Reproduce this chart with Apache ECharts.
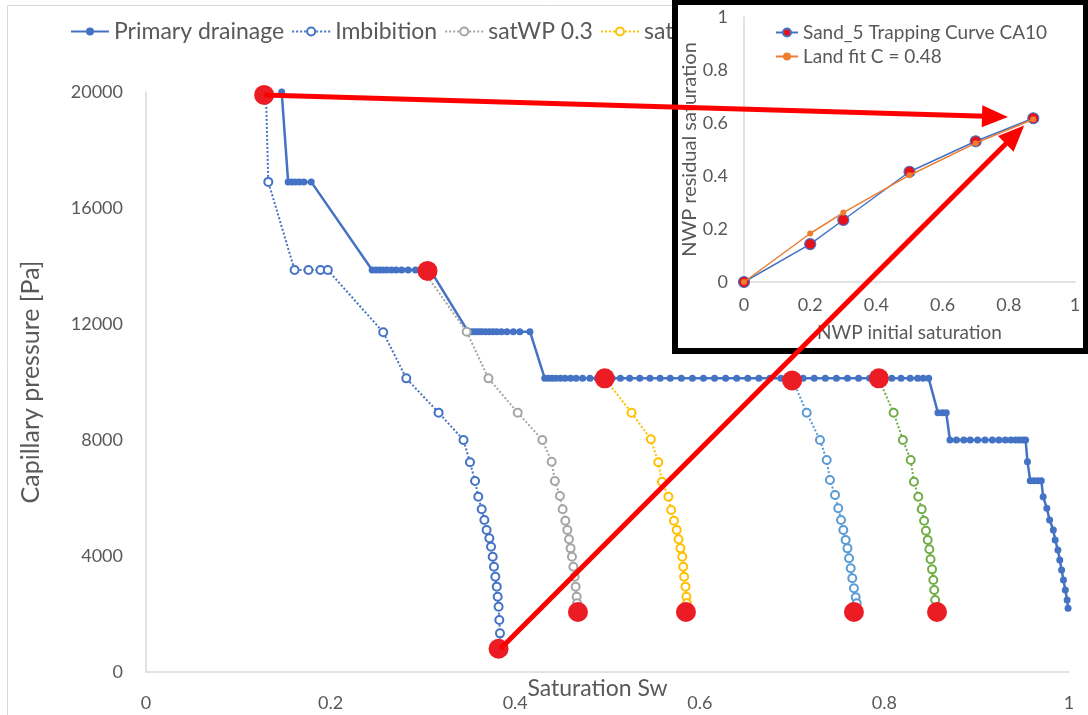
<!DOCTYPE html>
<html><head><meta charset="utf-8">
<script src="https://cdn.jsdelivr.net/npm/echarts@6/dist/echarts.min.js"></script>
<style>html,body{margin:0;padding:0;background:#fff}#c{width:1088px;height:715px}</style>
</head><body><div id="c"></div>
<script>
// ---------- DATA ----------
const seriesNames = ['Primary drainage', 'Imbibition', 'satWP 0.3', 'satWP 0.5', 'satWP 0.7', 'satWP 0.8'];
const xTickLabels = ['0', '0.2', '0.4', '0.6', '0.8', '1'];
const yTickLabels = ['0', '4000', '8000', '12000', '16000', '20000'];

const primaryDrainage = [
  [0.147, 20000], [0.154, 16900], [0.158, 16900], [0.162, 16900], [0.166, 16900], [0.171, 16900], [0.179, 16900],
  [0.245, 13860], [0.249, 13860], [0.253, 13860], [0.257, 13860], [0.261, 13860], [0.266, 13860], [0.271, 13860],
  [0.277, 13860], [0.284, 13860], [0.292, 13860], [0.300, 13860], [0.308, 13860],
  [0.349, 11735], [0.352, 11735], [0.355, 11735], [0.358, 11735], [0.361, 11735], [0.364, 11735], [0.368, 11735],
  [0.372, 11735], [0.376, 11735], [0.380, 11735], [0.385, 11735], [0.391, 11735], [0.398, 11735], [0.405, 11735], [0.416, 11735],
  [0.432, 10126], [0.436, 10126], [0.440, 10126], [0.444, 10126], [0.449, 10126], [0.454, 10126], [0.460, 10126],
  [0.466, 10126], [0.473, 10126], [0.481, 10126], [0.489, 10126], [0.497, 10126], [0.505, 10126], [0.514, 10126],
  [0.524, 10126], [0.535, 10126], [0.546, 10126], [0.557, 10126], [0.568, 10126], [0.580, 10126], [0.592, 10126],
  [0.604, 10126], [0.616, 10126], [0.628, 10126], [0.640, 10126], [0.652, 10126], [0.664, 10126], [0.676, 10126],
  [0.688, 10126], [0.700, 10126], [0.712, 10126], [0.724, 10126], [0.736, 10126], [0.748, 10126], [0.760, 10126],
  [0.772, 10126], [0.784, 10126], [0.796, 10126], [0.808, 10126], [0.818, 10126], [0.828, 10126], [0.836, 10126],
  [0.842, 10126], [0.848, 10126],
  [0.858, 8941], [0.863, 8941], [0.867, 8941],
  [0.871, 8000], [0.878, 8000], [0.886, 8000], [0.893, 8000], [0.901, 8000], [0.909, 8000], [0.917, 8000],
  [0.924, 8000], [0.931, 8000], [0.937, 8000], [0.942, 8000], [0.946, 8000], [0.950, 8000], [0.953, 8000],
  [0.955, 7253], [0.958, 6598], [0.962, 6598], [0.966, 6598], [0.970, 6598], [0.972, 6046], [0.976, 5644],
  [0.979, 5241], [0.983, 4897], [0.985, 4552], [0.988, 4207], [0.990, 3862], [0.992, 3517], [0.994, 3172],
  [0.996, 2828], [0.998, 2480], [0.999, 2195]
];
const imbibition = [
  [0.130, 19900], [0.1325, 16900], [0.161, 13860], [0.176, 13860], [0.189, 13860], [0.197, 13860],
  [0.257, 11713], [0.282, 10126], [0.317, 8943], [0.344, 8000], [0.351, 7230], [0.3565, 6586], [0.360, 6046],
  [0.3637, 5610], [0.3666, 5241], [0.369, 4897], [0.372, 4610], [0.3738, 4322], [0.3756, 3977], [0.377, 3632],
  [0.3785, 3287], [0.380, 2943], [0.381, 2597], [0.382, 2253], [0.3828, 1793], [0.3835, 1333], [0.384, 900]
];
const satWP03 = [
  [0.300, 13860], [0.3474, 11735], [0.371, 10126], [0.4027, 8943], [0.4294, 8000], [0.4395, 7253], [0.443, 6586],
  [0.4485, 6069], [0.4514, 5610], [0.4543, 5218], [0.4565, 4897], [0.4583, 4575], [0.460, 4264], [0.4615, 3977],
  [0.463, 3632], [0.4644, 3287], [0.4655, 2943], [0.4666, 2597], [0.467, 2368], [0.468, 2100]
];
const satWP05 = [
  [0.497, 10126], [0.526, 8941], [0.547, 8024], [0.555, 7231], [0.559, 6562], [0.566, 6045], [0.569, 5586],
  [0.572, 5218], [0.575, 4897], [0.577, 4575], [0.579, 4264], [0.581, 3977], [0.582, 3632], [0.583, 3287],
  [0.5845, 2943], [0.5855, 2597], [0.586, 2368], [0.587, 2100]
];
const satWP07 = [
  [0.700, 10126], [0.7158, 8941], [0.7302, 8000], [0.7375, 7310], [0.741, 6621], [0.7465, 6103], [0.750, 5644],
  [0.753, 5241], [0.7555, 4897], [0.758, 4552], [0.760, 4264], [0.7617, 3920], [0.7635, 3575], [0.7652, 3230],
  [0.767, 2885], [0.7689, 2575], [0.770, 2368], [0.770, 2100]
];
const satWP08 = [
  [0.7935, 10126], [0.810, 8941], [0.820, 8000], [0.8285, 7310], [0.832, 6563], [0.8367, 6046], [0.8404, 5610],
  [0.843, 5218], [0.845, 4873], [0.8469, 4552], [0.8487, 4230], [0.850, 3885], [0.8516, 3540], [0.853, 3172],
  [0.854, 2828], [0.855, 2483], [0.856, 2100]
];
// hand-drawn red annotation blobs (start / end points of scanning curves)
const annotationPoints = [
  [0.128, 19900], [0.305, 13830], [0.497, 10126], [0.700, 10050], [0.794, 10126],
  [0.382, 800], [0.468, 2069], [0.585, 2069], [0.767, 2069], [0.857, 2069]
];
// arrows: from main-chart points to the inset trapping point
const arrowFrom = [[0.128, 19900], [0.384, 800]];
const arrowTo = [0.87, 0.62];

// inset
const insetTickLabels = ['0', '0.2', '0.4', '0.6', '0.8', '1'];
const trapInitial = [0, 0.2, 0.3, 0.5, 0.7, 0.874];
const trapResidual = [0, 0.143, 0.234, 0.416, 0.531, 0.618];
const landInitial = [0, 0.2, 0.3, 0.5, 0.7, 0.874];
const landResidual = [0, 0.183, 0.262, 0.403, 0.524, 0.614];
const insetNames = ['Sand_5 Trapping Curve CA10', 'Land fit C = 0.48'];

// ---------- CHART ----------
const FONT = 'Lato';
const GREY = '#595959';
const chart = echarts.init(document.getElementById('c'), null, {renderer: 'canvas'});
const colors = ['#4472C4', '#4472C4', '#A5A5A5', '#FFC000', '#5B9BD5', '#70AD47'];
const mainData = [primaryDrainage, imbibition, satWP03, satWP05, satWP07, satWP08];

const mainSeries = mainData.map((d, i) => ({
  name: seriesNames[i], type: 'line', xAxisIndex: 0, yAxisIndex: 0, data: d,
  symbol: i === 0 ? 'circle' : 'emptyCircle', symbolSize: i === 0 ? 7 : 8,
  showSymbol: true, showAllSymbol: true,
  lineStyle: {color: colors[i], width: i === 0 ? 2.5 : 2, type: i === 0 ? 'solid' : 'dotted'},
  itemStyle: {color: colors[i], borderWidth: i === 0 ? 0 : 1.5},
  z: 2
}));

const axisText = {color: GREY, fontFamily: FONT};
const option = {
  animation: false,
  backgroundColor: '#fff',
  textStyle: {fontFamily: FONT},
  grid: [
    {left: 146, right: 19, top: 92, bottom: 43, outerBoundsMode: 'none', containLabel: false},
    {left: 744, right: 13, top: 17, bottom: 433, outerBoundsMode: 'none', containLabel: false}
  ],
  legend: [
    {data: seriesNames, left: 65, top: 15, itemWidth: 38, itemHeight: 10, itemGap: 7,
     textStyle: {color: GREY, fontSize: 23, fontFamily: FONT}, z: 4},
    {data: insetNames, left: 770, top: 18, orient: 'vertical', itemWidth: 22, itemHeight: 10, itemGap: 5,
     textStyle: {color: GREY, fontSize: 19, fontFamily: FONT}, zlevel: 2}
  ],
  xAxis: [
    {type: 'value', gridIndex: 0, min: 0, max: 1, interval: 0.2,
     name: 'Saturation Sw', nameLocation: 'middle', nameGap: 5, nameMoveOverlap: false,
     nameTextStyle: {color: GREY, fontSize: 23, fontFamily: FONT, padding: [0, 20, 0, 0]},
     axisLine: {show: true, lineStyle: {color: '#D9D9D9', width: 1.5}}, axisTick: {show: false},
     splitLine: {show: false},
     axisLabel: {...axisText, fontSize: 18, margin: 22, formatter: (v) => xTickLabels[Math.round(v / 0.2)]}},
    {type: 'value', gridIndex: 1, min: 0, max: 1, interval: 0.2, zlevel: 2,
     name: 'NWP initial saturation', nameLocation: 'middle', nameGap: 41, nameMoveOverlap: false,
     nameTextStyle: {color: GREY, fontSize: 19, fontFamily: FONT},
     axisLine: {show: true, lineStyle: {color: '#D9D9D9', width: 1.5}}, axisTick: {show: false},
     splitLine: {show: false},
     axisLabel: {...axisText, fontSize: 18, margin: 14, formatter: (v) => insetTickLabels[Math.round(v / 0.2)]}}
  ],
  yAxis: [
    {type: 'value', gridIndex: 0, min: 0, max: 20000, interval: 4000,
     name: 'Capillary pressure [Pa]', nameLocation: 'middle', nameGap: 103, nameMoveOverlap: false,
     nameTextStyle: {color: GREY, fontSize: 25, fontFamily: FONT},
     axisLine: {show: true, lineStyle: {color: '#D9D9D9', width: 1.5}}, axisTick: {show: false},
     splitLine: {show: false},
     axisLabel: {...axisText, fontSize: 18, margin: 23, formatter: (v) => yTickLabels[Math.round(v / 4000)]}},
    {type: 'value', gridIndex: 1, min: 0, max: 1, interval: 0.2, zlevel: 2,
     name: 'NWP residual saturation', nameLocation: 'middle', nameGap: 44, nameMoveOverlap: false,
     nameTextStyle: {color: GREY, fontSize: 20, fontFamily: FONT},
     axisLine: {show: true, lineStyle: {color: '#D9D9D9', width: 1.5}}, axisTick: {show: false},
     splitLine: {show: false},
     axisLabel: {...axisText, fontSize: 18, margin: 16, formatter: (v) => insetTickLabels[Math.round(v / 0.2)]}}
  ],
  series: [
    ...mainSeries,
    {name: 'annotation', type: 'scatter', xAxisIndex: 0, yAxisIndex: 0, data: annotationPoints,
     symbol: 'circle', symbolSize: 20, itemStyle: {color: '#EC1C24', opacity: 1}, z: 5, silent: true},
    {name: insetNames[0], type: 'line', xAxisIndex: 1, yAxisIndex: 1, zlevel: 2, z: 3,
     data: trapInitial.map((x, i) => [x, trapResidual[i]]),
     symbol: 'circle', symbolSize: 11,
     lineStyle: {color: '#4472C4', width: 1.5},
     itemStyle: {color: '#E8101B', borderColor: '#4472C4', borderWidth: 1.2}},
    {name: insetNames[1], type: 'line', xAxisIndex: 1, yAxisIndex: 1, zlevel: 2, z: 4,
     data: landInitial.map((x, i) => [x, landResidual[i]]),
     symbol: 'circle', symbolSize: 6,
     lineStyle: {color: '#ED7D31', width: 1.5},
     itemStyle: {color: '#ED7D31'}}
  ],
  graphic: [
    {type: 'rect', left: 5, top: 3, shape: {width: 1200, height: 800},
     style: {fill: 'none', stroke: '#D9D9D9', lineWidth: 1}, z: 0, silent: true},
    {type: 'rect', zlevel: 1, z: 10, shape: {x: 675, y: 2, width: 411, height: 349},
     style: {fill: '#fff', stroke: '#000', lineWidth: 6}, silent: true}
  ]
};
chart.setOption(option);

// arrows, positioned through the two coordinate systems
function arrow(fromVal, gap) {
  const a = chart.convertToPixel({xAxisIndex: 0, yAxisIndex: 0}, fromVal);
  const t0 = chart.convertToPixel({xAxisIndex: 1, yAxisIndex: 1}, arrowTo);
  let dx = t0[0] - a[0], dy = t0[1] - a[1];
  const len = Math.hypot(dx, dy); dx /= len; dy /= len;
  const tip = [t0[0] - dx * gap, t0[1] - dy * gap];
  const L = 26, W = 22;
  const base = [tip[0] - dx * L, tip[1] - dy * L];
  const px = -dy, py = dx;
  return [
    {type: 'line', zlevel: 3, silent: true,
     shape: {x1: a[0], y1: a[1], x2: base[0] + dx * 4, y2: base[1] + dy * 4},
     style: {stroke: '#FF0000', lineWidth: 5}},
    {type: 'polygon', zlevel: 3, silent: true,
     shape: {points: [tip, [base[0] + px * W / 2, base[1] + py * W / 2], [base[0] - px * W / 2, base[1] - py * W / 2]]},
     style: {fill: '#FF0000'}}
  ];
}
const arrows = [...arrow(arrowFrom[0], 24), ...arrow(arrowFrom[1], 11)];
chart.setOption({graphic: [...option.graphic, ...arrows]});
</script>
</body></html>
